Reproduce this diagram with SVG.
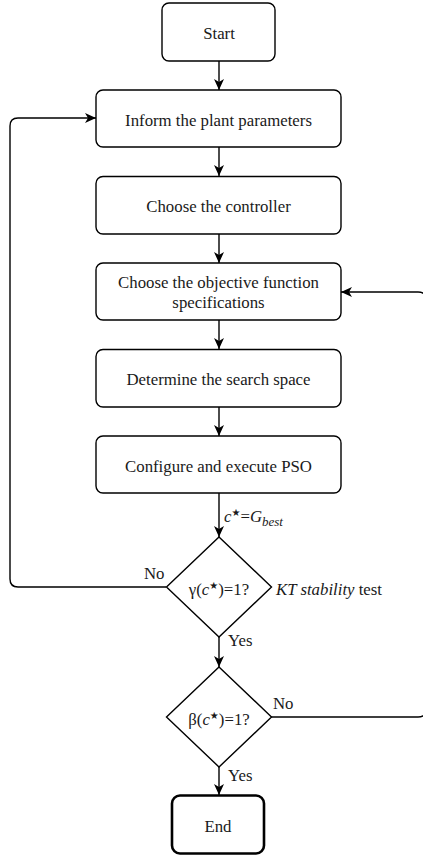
<svg xmlns="http://www.w3.org/2000/svg" width="423" height="856" viewBox="0 0 423 856">
<style>
.box{fill:#fff;stroke:#000;stroke-width:1.4}
.end{fill:#fff;stroke:#000;stroke-width:2.6}
.t{font-family:"Liberation Serif","Times New Roman",serif;font-size:16.8px;fill:#1a1a1a}
.c{text-anchor:middle}
.e{stroke:#000;stroke-width:1.4;fill:none}
.sup{font-size:10px;font-family:"DejaVu Sans",sans-serif}
.sub{font-size:13px}
</style>
<defs>
<marker id="ah" markerUnits="userSpaceOnUse" markerWidth="13" markerHeight="12" refX="11" refY="5" orient="auto">
<path d="M0,0 L11,5 L0,10 L3,5 z" fill="#000"/>
</marker>
</defs>
<g id="connectors">
<path class="e" d="M219,61 V90" marker-end="url(#ah)"/>
<path class="e" d="M219,147 V176" marker-end="url(#ah)"/>
<path class="e" d="M219,234 V263" marker-end="url(#ah)"/>
<path class="e" d="M219,320 V349" marker-end="url(#ah)"/>
<path class="e" d="M219,407 V436" marker-end="url(#ah)"/>
<path class="e" d="M219,493 V537" marker-end="url(#ah)"/>
<path class="e" d="M219,637 V667" marker-end="url(#ah)"/>
<path class="e" d="M219,767 V795" marker-end="url(#ah)"/>
<path class="e" d="M166,587 H18 Q10,587 10,579 V126 Q10,118 18,118 H96" marker-end="url(#ah)"/>
<path class="e" d="M271,717 H418 Q426,717 426,709 V300 Q426,292 418,292 H341" marker-end="url(#ah)"/>
</g>
<g id="start"><rect class="box" x="162" y="3" width="113" height="58" rx="7"/><text class="t c" x="219" y="39">Start</text></g>
<g id="inform"><rect class="box" x="96" y="90" width="245" height="57" rx="7"/><text class="t c" x="218.5" y="125.5">Inform the plant parameters</text></g>
<g id="controller"><rect class="box" x="96" y="176.5" width="245" height="57.5" rx="7"/><text class="t c" x="218.5" y="212">Choose the controller</text></g>
<g id="objective"><rect class="box" x="96" y="263" width="245" height="57" rx="7"/><text class="t c" x="218.5" y="288">Choose the objective function</text><text class="t c" x="218.5" y="307.5">specifications</text></g>
<g id="search"><rect class="box" x="96" y="349.5" width="245" height="57.5" rx="7"/><text class="t c" x="218.5" y="385">Determine the search space</text></g>
<g id="pso"><rect class="box" x="96" y="436" width="245" height="57" rx="7"/><text class="t c" x="218.5" y="471.5">Configure and execute PSO</text></g>
<g id="cbest"><text class="t" x="224" y="521.5"><tspan font-style="italic">c</tspan><tspan class="sup" dy="-6">★</tspan><tspan dy="6">=</tspan><tspan font-style="italic">G</tspan><tspan class="sub" font-style="italic" dy="4">best</tspan></text></g>
<g id="gamma"><path class="box" d="M219,537 L271.5,587 L219,637 L166.5,587 Z"/><text class="t c" x="219" y="594.5">γ(<tspan font-style="italic">c</tspan><tspan class="sup" dy="-6">★</tspan><tspan dy="6">)=1?</tspan></text></g>
<g id="ktlabel"><text class="t" x="276" y="594.5"><tspan font-style="italic">KT stability</tspan> test</text></g>
<g id="labels">
<text class="t" x="144" y="578.5">No</text>
<text class="t" x="228" y="646">Yes</text>
<text class="t" x="273" y="709">No</text>
<text class="t" x="228" y="781">Yes</text>
</g>
<g id="beta"><path class="box" d="M219,667 L271.5,717 L219,767 L166.5,717 Z"/><text class="t c" x="219" y="724.5">β(<tspan font-style="italic">c</tspan><tspan class="sup" dy="-6">★</tspan><tspan dy="6">)=1?</tspan></text></g>
<g id="end"><rect class="end" x="172" y="795.5" width="92" height="58" rx="8"/><text class="t c" x="218" y="832">End</text></g>
</svg>
